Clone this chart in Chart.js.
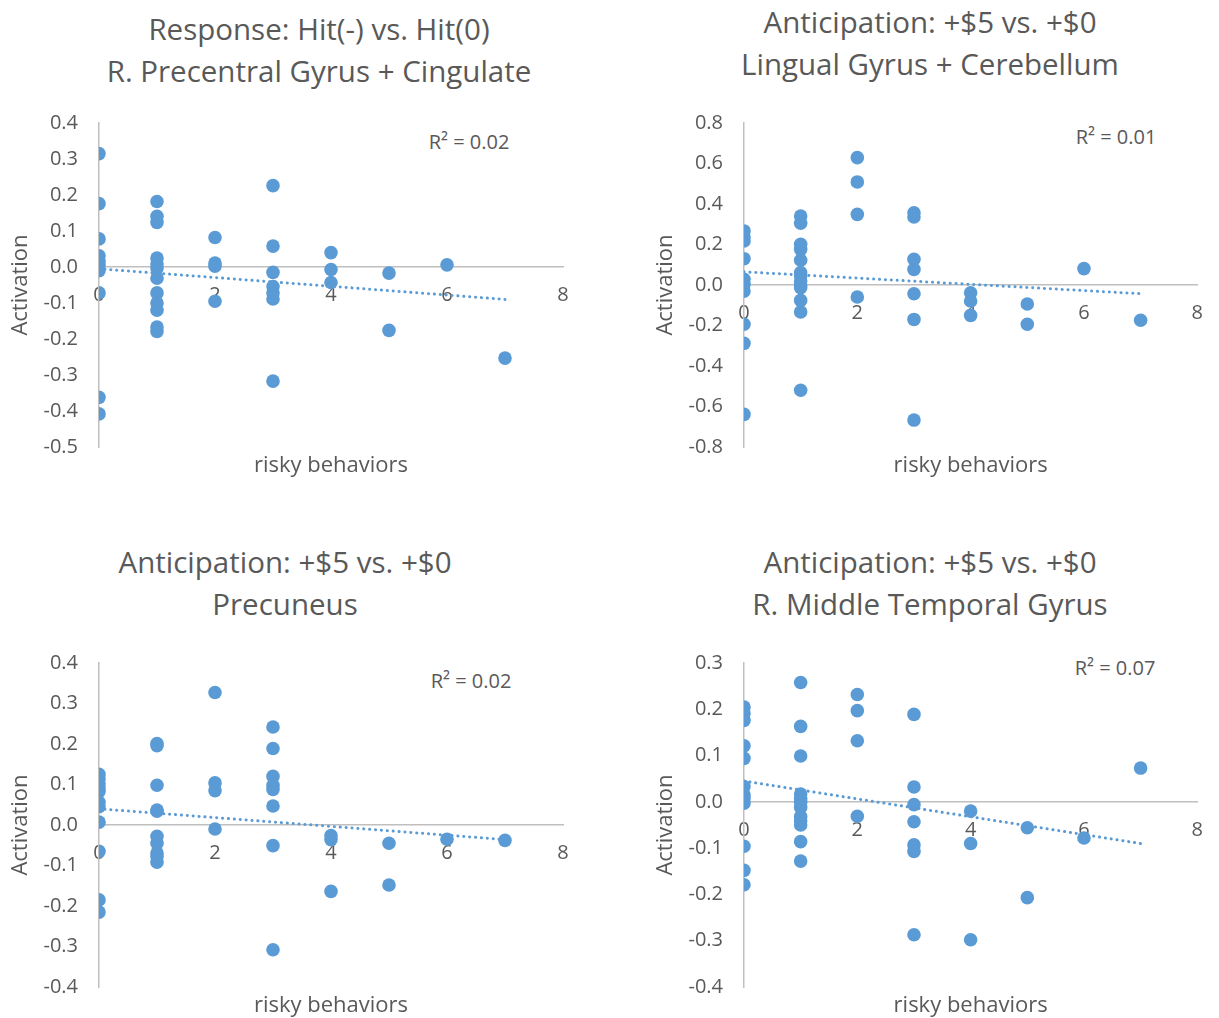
<!DOCTYPE html>
<html>
<head>
<meta charset="utf-8">
<script src="https://cdn.jsdelivr.net/npm/chart.js@4/dist/chart.umd.min.js"></script>
<style>
html, body { margin: 0; padding: 0; background: #fff; overflow: hidden; }
body { width: 1219px; height: 1018px; position: relative; font-family: "Open Sans", sans-serif; color: #595959; }
canvas { position: absolute; }
.ttl { position: absolute; width: 600px; text-align: center; font-size: 29.5px; line-height: 42px; white-space: nowrap; }
.r2 { position: absolute; width: 120px; text-align: center; font-size: 20px; line-height: 24px; white-space: nowrap; }
</style>
</head>
<body>
<div class="ttl" style="left:19px;top:8px">Response: Hit(-) vs. Hit(0)<br>R. Precentral Gyrus + Cingulate</div>
<div class="ttl" style="left:630px;top:1px">Anticipation: +$5 vs. +$0<br>Lingual Gyrus + Cerebellum</div>
<div class="ttl" style="left:-15px;top:541px">Anticipation: +$5 vs. +$0<br>Precuneus</div>
<div class="ttl" style="left:630px;top:541px">Anticipation: +$5 vs. +$0<br>R. Middle Temporal Gyrus</div>

<div class="r2" style="left:409px;top:130px">R² = 0.02</div>
<div class="r2" style="left:1056px;top:125px">R² = 0.01</div>
<div class="r2" style="left:411px;top:669px">R² = 0.02</div>
<div class="r2" style="left:1055px;top:656px">R² = 0.07</div>

<canvas id="c1" width="600" height="379" style="left:0px;top:100px"></canvas>
<canvas id="c2" width="574" height="379" style="left:645px;top:100px"></canvas>
<canvas id="c3" width="600" height="379" style="left:0px;top:640px"></canvas>
<canvas id="c4" width="574" height="379" style="left:645px;top:640px"></canvas>

<script>
// risky behaviors (x) and activation (y)
var p1X = [0,0,0,0,0,0,0,0,0,0, 1,1,1,1,1,1,1,1,1,1,1,1, 2,2,2,2, 3,3,3,3,3,3,3, 4,4,4, 5,5, 6, 7];
var p1Y = [0.315,0.176,0.078,0.031,0.016,0.005,-0.010,-0.072,-0.362,-0.408,
           0.182,0.141,0.124,0.025,0.008,-0.003,-0.031,-0.072,-0.100,-0.120,-0.167,-0.179,
           0.082,0.011,0.002,-0.095,
           0.226,0.058,-0.015,-0.054,-0.072,-0.089,-0.317,
           0.040,-0.007,-0.043,
           -0.017,-0.176,
           0.006,
           -0.253];
var p1Trend = [-0.005, -0.09];

var p2X = [0,0,0,0,0,0,0,0,0,0, 1,1,1,1,1,1,1,1,1,1,1,1,1, 2,2,2,2, 3,3,3,3,3,3,3, 4,4,4, 5,5, 6, 7];
var p2Y = [0.267,0.237,0.217,0.130,0.028,0.003,-0.030,-0.194,-0.288,-0.639,
           0.341,0.305,0.201,0.176,0.122,0.061,0.044,0.020,0.0,-0.013,-0.076,-0.133,-0.520,
           0.629,0.509,0.349,-0.059,
           0.357,0.336,0.127,0.077,-0.043,-0.170,-0.667,
           -0.038,-0.079,-0.150,
           -0.094,-0.194,
           0.081,
           -0.174];
var p2Trend = [0.065, -0.043];

var p3X = [0,0,0,0,0,0,0,0,0,0,0, 1,1,1,1,1,1,1,1,1,1, 2,2,2,2, 3,3,3,3,3,3,3,3, 4,4,4, 5,5, 6, 7];
var p3Y = [0.125,0.114,0.102,0.092,0.083,0.056,0.045,0.007,-0.065,-0.185,-0.215,
           0.201,0.196,0.098,0.037,0.034,-0.028,-0.045,-0.069,-0.078,-0.092,
           0.327,0.104,0.085,-0.010,
           0.242,0.189,0.120,0.098,0.088,0.047,-0.051,-0.308,
           -0.026,-0.036,-0.164,
           -0.045,-0.148,
           -0.035,
           -0.038];
var p3Trend = [0.04, -0.036];

var p4X = [0,0,0,0,0,0,0,0,0,0,0,0, 1,1,1,1,1,1,1,1,1,1,1,1, 2,2,2,2, 3,3,3,3,3,3,3, 4,4,4, 5,5, 6, 7];
var p4Y = [0.205,0.191,0.176,0.121,0.094,0.033,0.015,0.007,-0.003,-0.096,-0.148,-0.179,
           0.258,0.163,0.099,0.017,0.007,-0.001,-0.012,-0.032,-0.041,-0.050,-0.086,-0.128,
           0.232,0.197,0.132,-0.031,
           0.189,0.032,-0.006,-0.043,-0.093,-0.107,-0.287,
           -0.020,-0.090,-0.298,
           -0.056,-0.207,
           -0.078,
           0.073];
var p4Trend = [0.045, -0.09];

var trendX = [0, 7];
var xMin = 0, xMax = 8, xStep = 2;

var textColor = '#595959';
var dotColor = '#5B9BD5';
var axisColor = '#BFBFBF';
var fontName = 'Open Sans';

function makeChart(id, xs, ys, trend, yMin, yMax, yStep, padRight) {
  var pts = xs.map(function(x, i) { return {x: x, y: ys[i]}; });
  var trendPts = trendX.map(function(x, i) { return {x: x, y: trend[i]}; });
  return new Chart(document.getElementById(id), {
    type: 'scatter',
    data: {
      datasets: [
        {
          type: 'line', data: trendPts, xAxisID: 'x', yAxisID: 'y',
          borderColor: dotColor, borderWidth: 3, borderDash: [0.1, 5.8],
          borderCapStyle: 'round', pointRadius: 0, fill: false, order: 0
        },
        {
          data: pts, xAxisID: 'x', yAxisID: 'y',
          backgroundColor: dotColor, borderWidth: 0,
          pointRadius: 6.8, pointHoverRadius: 6.8, order: 1
        }
      ]
    },
    options: {
      responsive: false,
      animation: false,
      events: [],
      layout: {padding: {left: 0, right: padRight, top: 23, bottom: 0}},
      plugins: {legend: {display: false}, tooltip: {enabled: false}},
      scales: {
        x: {
          type: 'linear', position: {y: 0}, min: xMin, max: xMax,
          ticks: {stepSize: xStep, padding: 16, color: textColor, font: {family: fontName, size: 20}},
          grid: {display: false, drawTicks: false},
          border: {color: axisColor, width: 1.5}
        },
        x2: {
          type: 'linear', position: 'bottom',
          ticks: {display: false},
          grid: {display: false, drawTicks: false},
          border: {display: false},
          title: {display: true, text: 'risky behaviors', color: textColor,
                  font: {family: fontName, size: 22}, padding: {top: 5.6, bottom: 0}}
        },
        y: {
          type: 'linear', position: 'left', min: yMin, max: yMax,
          ticks: {
            stepSize: yStep, padding: 21, color: textColor, font: {family: fontName, size: 20},
            callback: function(v) { return Math.abs(v) < 1e-9 ? '0.0' : v.toFixed(1); }
          },
          grid: {display: false, drawTicks: false},
          border: {color: axisColor, width: 1.5},
          title: {display: true, text: 'Activation', color: textColor,
                  font: {family: fontName, size: 22}, padding: {top: 8, bottom: 0}},
          afterFit: function(scale) {
            scale.width = 99;
            scale.paddingTop = 0;
            scale.paddingBottom = 0;
          }
        }
      }
    }
  });
}

makeChart('c1', p1X, p1Y, p1Trend, -0.5, 0.4, 0.1, 37);
makeChart('c2', p2X, p2Y, p2Trend, -0.8, 0.8, 0.2, 11);
makeChart('c3', p3X, p3Y, p3Trend, -0.4, 0.4, 0.1, 37);
makeChart('c4', p4X, p4Y, p4Trend, -0.4, 0.3, 0.1, 11);
</script>
</body>
</html>
